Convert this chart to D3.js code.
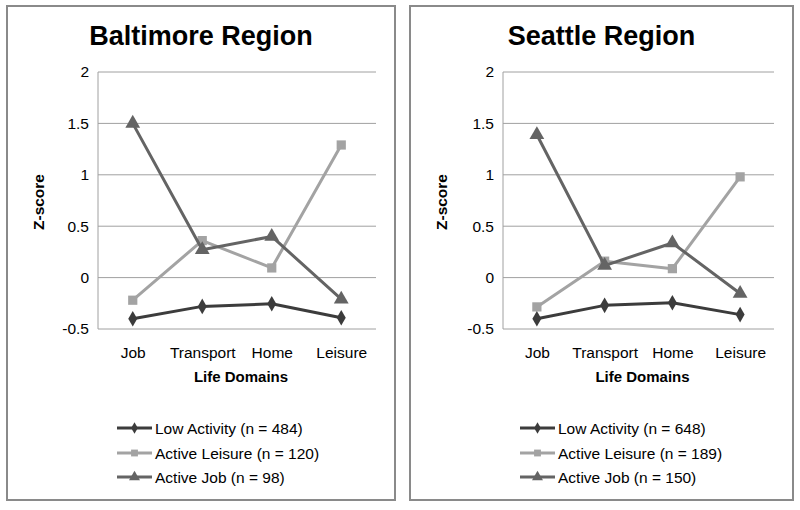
<!DOCTYPE html>
<html><head><meta charset="utf-8">
<script src="https://cdn.jsdelivr.net/npm/d3@7"></script>
<style>body{margin:0;background:#fff;} svg{display:block;font-family:Arial,"Liberation Sans",sans-serif;}</style>
</head><body>
<svg id="c" width="800" height="510"></svg>
<script>
const categories = ["Job", "Transport", "Home", "Leisure"];
const yTicks = [-0.5, 0, 0.5, 1, 1.5, 2];
const panelTitles = ["Baltimore Region", "Seattle Region"];
const seriesNames = ["Low Activity", "Active Leisure", "Active Job"];
const baltimoreN = [484, 120, 98];
const seattleN = [648, 189, 150];
const baltimoreLow = [-0.40, -0.28, -0.255, -0.39];
const baltimoreLeisure = [-0.22, 0.36, 0.094, 1.29];
const baltimoreJob = [1.50, 0.27, 0.40, -0.21];
const seattleLow = [-0.40, -0.27, -0.245, -0.36];
const seattleLeisure = [-0.285, 0.16, 0.087, 0.98];
const seattleJob = [1.39, 0.117, 0.337, -0.155];

const colors = ["#3c3c3c", "#a3a3a3", "#646464"];
const shapes = [d3.symbolDiamond, d3.symbolSquare, d3.symbolTriangle];
const sizes = [70, 85, 95];

const panels = [
  {x0: 7, x1: 395, plotL: 98, plotR: 376, title: panelTitles[0], n: baltimoreN,
   series: [baltimoreLow, baltimoreLeisure, baltimoreJob]},
  {x0: 410, x1: 793, plotL: 503, plotR: 774, title: panelTitles[1], n: seattleN,
   series: [seattleLow, seattleLeisure, seattleJob]}
];

const svg = d3.select("#c");
const y = d3.scaleLinear().domain([-0.5, 2]).range([329, 72]);
const FONT = "Arial, 'Liberation Sans', sans-serif";

panels.forEach(p => {
  const g = svg.append("g");
  g.append("rect").attr("x", p.x0).attr("y", 6).attr("width", p.x1 - p.x0).attr("height", 494)
    .attr("fill", "#fff").attr("stroke", "#8a8a8a").attr("stroke-width", 2);
  const cx = (p.x0 + p.x1) / 2;
  g.append("text").attr("x", cx).attr("y", 45).attr("text-anchor", "middle")
    .attr("font-size", 27).attr("font-weight", "bold").attr("fill", "#000").text(p.title);

  const x = d3.scalePoint().domain(categories).range([p.plotL, p.plotR]).padding(0.5);

  g.selectAll(".grid").data(yTicks).join("line")
    .attr("x1", p.plotL).attr("x2", p.plotR)
    .attr("y1", d => y(d)).attr("y2", d => y(d))
    .attr("stroke", "#a0a0a0").attr("stroke-width", 1);
  g.append("line").attr("x1", p.plotL).attr("x2", p.plotL).attr("y1", y(2)).attr("y2", y(-0.5))
    .attr("stroke", "#a0a0a0").attr("stroke-width", 1);

  const yAxis = d3.axisLeft(y).tickValues(yTicks).tickSize(0).tickPadding(9).tickFormat(d => String(d));
  const ya = g.append("g").attr("transform", `translate(${p.plotL},0)`).call(yAxis);
  ya.select(".domain").remove();
  ya.selectAll("text").attr("font-size", 15.5).attr("fill", "#000").attr("font-family", FONT);

  const xAxis = d3.axisBottom(x).tickSize(0).tickPadding(18);
  const xa = g.append("g").attr("transform", `translate(0,${y(-0.5)})`).call(xAxis);
  xa.select(".domain").remove();
  xa.selectAll("text").attr("font-size", 15.5).attr("fill", "#000").attr("font-family", FONT);

  g.append("text").attr("x", (p.plotL + p.plotR) / 2 + 4).attr("y", 382).attr("text-anchor", "middle")
    .attr("font-size", 15).attr("font-weight", "bold").text("Life Domains");
  g.append("text").attr("transform", `translate(${p.x0 + 37},202) rotate(-90)`).attr("text-anchor", "middle")
    .attr("font-size", 15.5).attr("font-weight", "bold").text("Z-score");

  const line = d3.line().x((d, i) => x(categories[i])).y(d => y(d));
  [1, 2, 0].forEach(si => {
    const vals = p.series[si];
    g.append("path").attr("d", line(vals)).attr("fill", "none")
      .attr("stroke", colors[si]).attr("stroke-width", 3).attr("stroke-linejoin", "round");
    g.selectAll(null).data(vals).join("path")
      .attr("transform", (d, i) => `translate(${x(categories[i])},${y(d)})`)
      .attr("d", d3.symbol(shapes[si], sizes[si])).attr("fill", colors[si]);
  });

  const lx = p.x0 + 110;
  const rows = [428, 453, 477];
  seriesNames.forEach((name, si) => {
    const ry = rows[si];
    g.append("line").attr("x1", lx).attr("x2", lx + 35).attr("y1", ry).attr("y2", ry)
      .attr("stroke", colors[si]).attr("stroke-width", 3);
    g.append("path").attr("transform", `translate(${lx + 17.5},${ry})`)
      .attr("d", d3.symbol(shapes[si], sizes[si] * 0.55)).attr("fill", colors[si]);
    g.append("text").attr("x", lx + 38).attr("y", ry + 5.5).attr("font-size", 15.5).attr("fill", "#000")
      .text(`${name} (n = ${p.n[si]})`);
  });
});
</script>
</body></html>
